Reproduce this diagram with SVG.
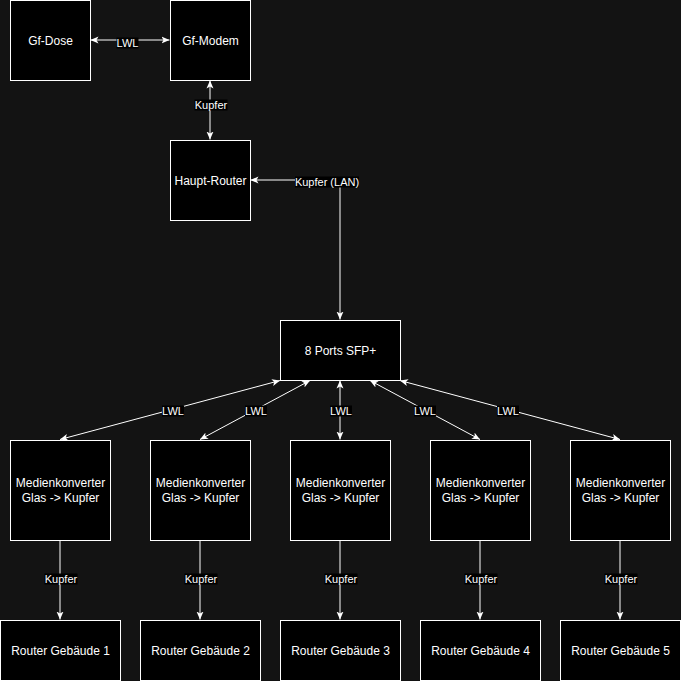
<svg xmlns="http://www.w3.org/2000/svg" width="681" height="681" viewBox="0 0 681 681">
<style>
.node{fill:#000;stroke:#fff;stroke-width:1}
.t{fill:#fff;font-family:"Liberation Sans",Arial,sans-serif;font-size:12px;text-anchor:middle;dominant-baseline:central}
.e{fill:none;stroke:#fff;stroke-width:1}
.lb{fill:#000}
.lt{fill:#fff;font-family:"Liberation Sans",Arial,sans-serif;font-size:11px;text-anchor:middle;dominant-baseline:central}
</style>
<defs>
<marker id="a" viewBox="0 0 8 8" refX="8" refY="4" markerWidth="8" markerHeight="8" markerUnits="userSpaceOnUse" orient="auto-start-reverse">
<path d="M0,0.5 L8,4 L0,7.5 L2,4 Z" fill="#fff"/>
</marker>
</defs>
<rect width="681" height="681" fill="#131313"/>
<g id="connectors">
<path class="e" d="M90.5,40 L169.5,40" marker-start="url(#a)" marker-end="url(#a)"/>
<path class="e" d="M210,80.5 L210,139.5" marker-start="url(#a)" marker-end="url(#a)"/>
<path class="e" d="M340,319.5 L340,180 L250.5,180" marker-start="url(#a)" marker-end="url(#a)"/>
<path class="e" d="M280,380.5 L60,439.5" marker-start="url(#a)" marker-end="url(#a)"/>
<path class="e" d="M310,380.5 L200,439.5" marker-start="url(#a)" marker-end="url(#a)"/>
<path class="e" d="M340,380.5 L340,439.5" marker-start="url(#a)" marker-end="url(#a)"/>
<path class="e" d="M370,380.5 L480,439.5" marker-start="url(#a)" marker-end="url(#a)"/>
<path class="e" d="M400,380.5 L620,439.5" marker-start="url(#a)" marker-end="url(#a)"/>
<path class="e" d="M60,540.5 L60,619.5" marker-end="url(#a)"/>
<path class="e" d="M200,540.5 L200,619.5" marker-end="url(#a)"/>
<path class="e" d="M340,540.5 L340,619.5" marker-end="url(#a)"/>
<path class="e" d="M480,540.5 L480,619.5" marker-end="url(#a)"/>
<path class="e" d="M620,540.5 L620,619.5" marker-end="url(#a)"/>
<g id="labels">
<rect class="lb" x="116.5" y="37.5" width="22" height="11"/><text class="lt" x="127.5" y="43">LWL</text>
<rect class="lb" x="194.5" y="99.5" width="33" height="11"/><text class="lt" x="211" y="105">Kupfer</text>
<rect class="lb" x="295" y="176.5" width="64" height="11"/><text class="lt" x="327" y="182">Kupfer (LAN)</text>
<rect class="lb" x="162" y="405.5" width="22" height="11"/><text class="lt" x="173" y="411">LWL</text>
<rect class="lb" x="245" y="405.5" width="22" height="11"/><text class="lt" x="256" y="411">LWL</text>
<rect class="lb" x="330" y="405.5" width="22" height="11"/><text class="lt" x="341" y="411">LWL</text>
<rect class="lb" x="414" y="405.5" width="22" height="11"/><text class="lt" x="425" y="411">LWL</text>
<rect class="lb" x="497" y="405.5" width="22" height="11"/><text class="lt" x="508" y="411">LWL</text>
<rect class="lb" x="44.5" y="573.5" width="33" height="11"/><text class="lt" x="61" y="579">Kupfer</text>
<rect class="lb" x="184.5" y="573.5" width="33" height="11"/><text class="lt" x="201" y="579">Kupfer</text>
<rect class="lb" x="324.5" y="573.5" width="33" height="11"/><text class="lt" x="341" y="579">Kupfer</text>
<rect class="lb" x="464.5" y="573.5" width="33" height="11"/><text class="lt" x="481" y="579">Kupfer</text>
<rect class="lb" x="604.5" y="573.5" width="33" height="11"/><text class="lt" x="621" y="579">Kupfer</text>
</g>
</g>
<g id="gf-dose"><rect class="node" x="10.5" y="0.5" width="80" height="80"/><text class="t" x="50.5" y="40.5">Gf-Dose</text></g>
<g id="gf-modem"><rect class="node" x="170.5" y="0.5" width="80" height="80"/><text class="t" x="210.5" y="40.5">Gf-Modem</text></g>
<g id="haupt-router"><rect class="node" x="170.5" y="140.5" width="80" height="80"/><text class="t" x="210.5" y="180.5">Haupt-Router</text></g>
<g id="sfp"><rect class="node" x="280.5" y="320.5" width="120" height="60"/><text class="t" x="340.5" y="350.5">8 Ports SFP+</text></g>
<g id="mk1"><rect class="node" x="10.5" y="440.5" width="100" height="100"/><text class="t" x="60.5" y="483">Medienkonverter</text><text class="t" x="60.5" y="498">Glas -&gt; Kupfer</text></g>
<g id="mk2"><rect class="node" x="150.5" y="440.5" width="100" height="100"/><text class="t" x="200.5" y="483">Medienkonverter</text><text class="t" x="200.5" y="498">Glas -&gt; Kupfer</text></g>
<g id="mk3"><rect class="node" x="290.5" y="440.5" width="100" height="100"/><text class="t" x="340.5" y="483">Medienkonverter</text><text class="t" x="340.5" y="498">Glas -&gt; Kupfer</text></g>
<g id="mk4"><rect class="node" x="430.5" y="440.5" width="100" height="100"/><text class="t" x="480.5" y="483">Medienkonverter</text><text class="t" x="480.5" y="498">Glas -&gt; Kupfer</text></g>
<g id="mk5"><rect class="node" x="570.5" y="440.5" width="100" height="100"/><text class="t" x="620.5" y="483">Medienkonverter</text><text class="t" x="620.5" y="498">Glas -&gt; Kupfer</text></g>
<g id="r1"><rect class="node" x="0.5" y="620.5" width="120" height="60"/><text class="t" x="60.5" y="650.5">Router Gebäude 1</text></g>
<g id="r2"><rect class="node" x="140.5" y="620.5" width="120" height="60"/><text class="t" x="200.5" y="650.5">Router Gebäude 2</text></g>
<g id="r3"><rect class="node" x="280.5" y="620.5" width="120" height="60"/><text class="t" x="340.5" y="650.5">Router Gebäude 3</text></g>
<g id="r4"><rect class="node" x="420.5" y="620.5" width="120" height="60"/><text class="t" x="480.5" y="650.5">Router Gebäude 4</text></g>
<g id="r5"><rect class="node" x="560.5" y="620.5" width="120" height="60"/><text class="t" x="620.5" y="650.5">Router Gebäude 5</text></g>
</svg>
